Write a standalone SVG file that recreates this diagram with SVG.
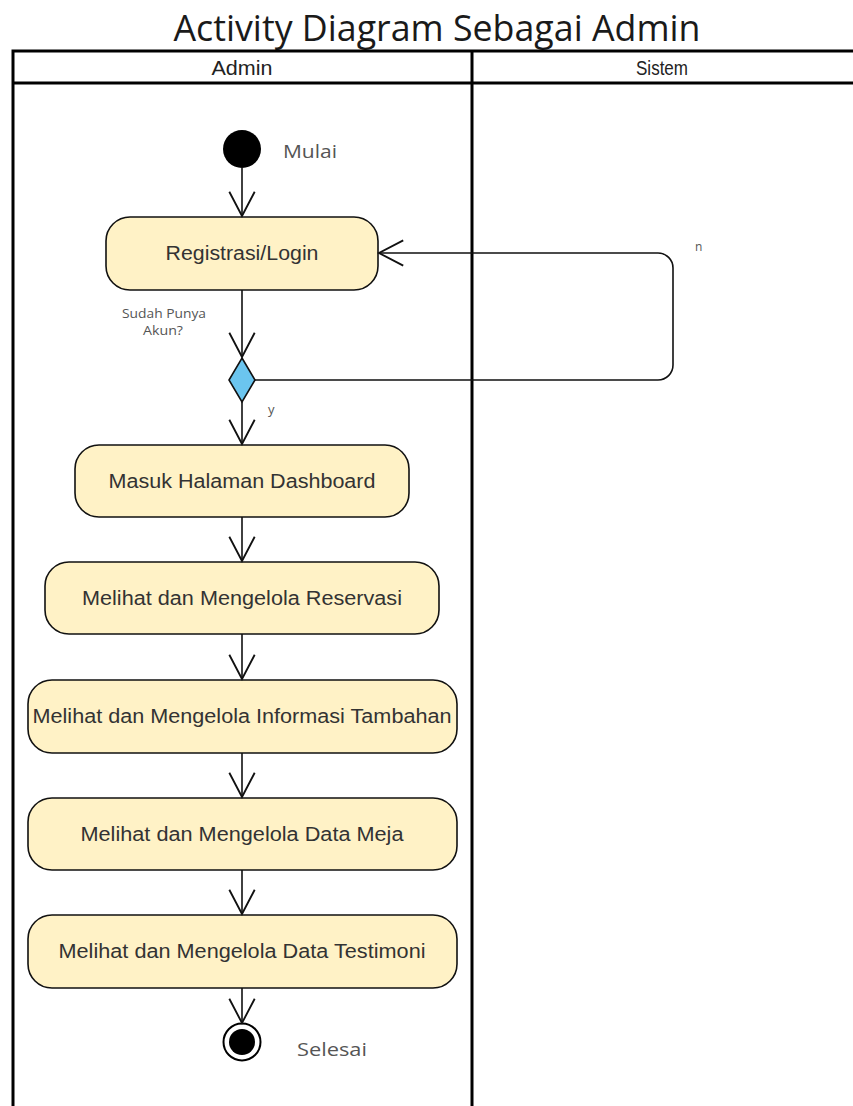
<svg xmlns="http://www.w3.org/2000/svg" width="853" height="1106" viewBox="0 0 853 1106">
  <style>
    .lane { fill: none; stroke: #000; stroke-width: 3; }
    .title { font-family: "Open Sans", sans-serif; font-size: 36px; fill: #1a1a1a; }
    .lanehead { font-family: "Liberation Sans", Arial, sans-serif; font-size: 21px; fill: #222; text-anchor: middle; }
    .act rect { fill: #fff2c6; stroke: #111; stroke-width: 1.6; }
    .act text { font-family: "Liberation Sans", Arial, sans-serif; font-size: 20px; fill: #333; text-anchor: middle; }
    .note { font-family: "Open Sans", sans-serif; fill: #555; }
    .flow { fill: none; stroke: #111; stroke-width: 1.6; marker-end: url(#open); }
  </style>
  <defs>
    <marker id="open" markerUnits="userSpaceOnUse" markerWidth="30" markerHeight="30" viewBox="-24 -13 26 26" refX="0" refY="0" orient="auto" overflow="visible">
      <path d="M-21,-11 L0,0 L-21,11" fill="none" stroke="#111" stroke-width="1.6"/>
    </marker>
  </defs>
  <rect width="853" height="1106" fill="#fff"/>

  <!-- title -->
  <text class="title" x="437" y="41" text-anchor="middle" textLength="527" lengthAdjust="spacingAndGlyphs">Activity Diagram Sebagai Admin</text>

  <!-- swimlanes -->
  <g id="lanes">
    <path class="lane" d="M13,1110 V51 H860"/>
    <line class="lane" x1="13" y1="83" x2="860" y2="83"/>
    <line class="lane" x1="472" y1="51" x2="472" y2="1110"/>
    <text class="lanehead" x="242" y="75" textLength="61" lengthAdjust="spacingAndGlyphs">Admin</text>
    <text class="lanehead" x="662" y="75" textLength="52" lengthAdjust="spacingAndGlyphs">Sistem</text>
  </g>

  <!-- start -->
  <g id="start">
    <circle cx="242" cy="149" r="19" fill="#000"/>
    <text class="note" x="283" y="158" font-size="19" textLength="54" lengthAdjust="spacingAndGlyphs">Mulai</text>
  </g>

  <g id="registrasi" class="act">
    <rect x="106" y="217" width="272" height="73" rx="24"/>
    <text x="242" y="260" textLength="153" lengthAdjust="spacingAndGlyphs">Registrasi/Login</text>
  </g>

  <g id="decision">
    <polygon points="242,358 255,380 242,402 229,380" fill="#6bc5ef" stroke="#111" stroke-width="1.6"/>
    <text class="note" x="164" y="318" font-size="13" text-anchor="middle" textLength="84" lengthAdjust="spacingAndGlyphs">Sudah Punya</text>
    <text class="note" x="163" y="335" font-size="13" text-anchor="middle" textLength="40" lengthAdjust="spacingAndGlyphs">Akun?</text>
  </g>

  <g id="dashboard" class="act">
    <rect x="75" y="445" width="334" height="72" rx="24"/>
    <text x="242" y="488" textLength="267" lengthAdjust="spacingAndGlyphs">Masuk Halaman Dashboard</text>
  </g>

  <g id="reservasi" class="act">
    <rect x="45" y="562" width="394" height="72" rx="24"/>
    <text x="242" y="605" textLength="320" lengthAdjust="spacingAndGlyphs">Melihat dan Mengelola Reservasi</text>
  </g>

  <g id="informasi" class="act">
    <rect x="28" y="680" width="429" height="73" rx="24"/>
    <text x="242" y="723" textLength="419" lengthAdjust="spacingAndGlyphs">Melihat dan Mengelola Informasi Tambahan</text>
  </g>

  <g id="meja" class="act">
    <rect x="28" y="798" width="429" height="72" rx="24"/>
    <text x="242" y="841" textLength="323" lengthAdjust="spacingAndGlyphs">Melihat dan Mengelola Data Meja</text>
  </g>

  <g id="testimoni" class="act">
    <rect x="28" y="915" width="429" height="73" rx="24"/>
    <text x="242" y="958" textLength="367" lengthAdjust="spacingAndGlyphs">Melihat dan Mengelola Data Testimoni</text>
  </g>

  <!-- end -->
  <g id="end">
    <circle cx="242" cy="1042" r="18.5" fill="#fff" stroke="#000" stroke-width="2"/>
    <circle cx="242" cy="1042" r="13" fill="#000"/>
    <text class="note" x="297" y="1056" font-size="19" textLength="70" lengthAdjust="spacingAndGlyphs">Selesai</text>
  </g>

  <!-- connectors -->
  <g id="connectors">
    <line class="flow" x1="242" y1="168" x2="242" y2="216"/>
    <line class="flow" x1="242" y1="290" x2="242" y2="357"/>
    <line class="flow" x1="242" y1="402" x2="242" y2="444"/>
    <line class="flow" x1="242" y1="517" x2="242" y2="561"/>
    <line class="flow" x1="242" y1="634" x2="242" y2="679"/>
    <line class="flow" x1="242" y1="753" x2="242" y2="797"/>
    <line class="flow" x1="242" y1="870" x2="242" y2="914"/>
    <line class="flow" x1="242" y1="988" x2="242" y2="1023"/>
    <path class="flow" d="M255,380 H658 A15,15 0 0 0 673,365 V268 A15,15 0 0 0 658,253 H379"/>
    <text class="note" x="695" y="251" font-size="12" fill="#888">n</text>
    <text class="note" x="268" y="414" font-size="13">y</text>
  </g>
</svg>
